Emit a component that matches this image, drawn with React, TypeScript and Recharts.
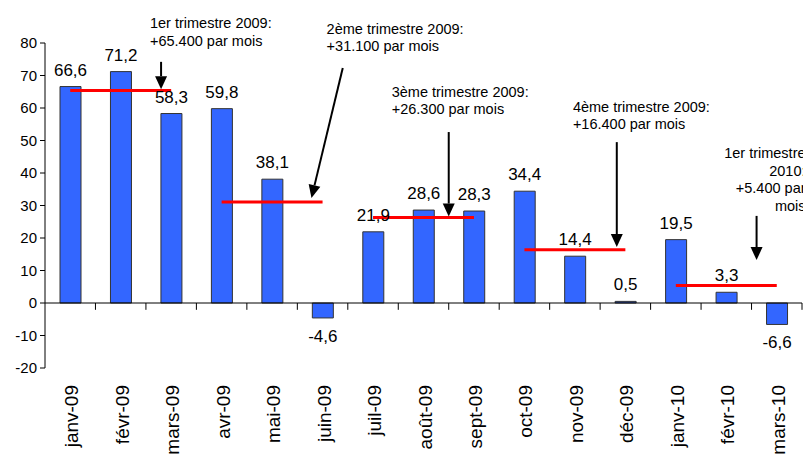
import React from "react";
import {
  ComposedChart, Bar, Line, XAxis, YAxis, ReferenceLine, ReferenceDot, LabelList,
} from "recharts";

const months = [
  "janv-09", "févr-09", "mars-09", "avr-09", "mai-09", "juin-09", "juil-09", "août-09",
  "sept-09", "oct-09", "nov-09", "déc-09", "janv-10", "févr-10", "mars-10",
];
const jobs = [66.6, 71.2, 58.3, 59.8, 38.1, -4.6, 21.9, 28.6, 28.3, 34.4, 14.4, 0.5, 19.5, 3.3, -6.6];
const quarterAvg = [65.4, 31.1, 26.3, 16.4, 5.4];
const yTicks = [-20, -10, 0, 10, 20, 30, 40, 50, 60, 70, 80];

// annotation text: [x on the 0..15 slot scale, y value, anchor, lines]
const notes: [number, number, string, string[]][] = [
  [2.08, 84.6, "start", ["1er trimestre 2009:", "+65.400 par mois"]],
  [5.58, 82.8, "start", ["2ème trimestre 2009:", "+31.100 par mois"]],
  [6.87, 63.4, "start", ["3ème trimestre 2009:", "+26.300 par mois"]],
  [10.46, 58.8, "start", ["4ème trimestre 2009:", "+16.400 par mois"]],
  [15.07, 44.6, "end", ["1er trimestre", "2010:", "+5.400 par", "mois"]],
];
// arrows: [x1, y1, x2, y2] on the same scales
const arrows = [
  [2.3, 74.2, 2.3, 65.8],
  [5.9, 72.3, 5.28, 32.3],
  [8.0, 52.6, 8.0, 26.6],
  [11.33, 49.5, 11.33, 17.2],
  [14.1, 26.8, 14.1, 13.2],
];

const data = months.map((m, i) => {
  const row: any = { month: m, slot: i + 0.5, value: jobs[i] };
  quarterAvg.forEach((q, k) => {
    row["q" + k] = Math.floor(i / 3) === k ? q : null;
  });
  return row;
});

const font = "Arial, 'Liberation Sans', sans-serif";

const MonthTick = ({ x, y, payload }: any) => {
  const tx = x + 8;
  const ty = y + 17;
  return (
    <text x={tx} y={ty} transform={`rotate(-90, ${tx}, ${ty})`} textAnchor="end"
      fontSize={19} fontFamily={font} fill="#000">
      {payload.value}
    </text>
  );
};

const ValueLabel = ({ x, y, width, height, value }: any) => {
  const neg = value < 0;
  const top = Math.min(y, y + height);
  const bottom = Math.max(y, y + height);
  return (
    <text x={x + width / 2} y={neg ? bottom + 24 : top - 11} textAnchor="middle"
      fontSize={17} fontFamily={font} fill="#000">
      {String(value).replace(".", ",")}
    </text>
  );
};

const Arrow = ({ x1, y1, x2, y2 }: any) => {
  const dx = x2 - x1;
  const dy = y2 - y1;
  const len = Math.sqrt(dx * dx + dy * dy);
  const ux = dx / len;
  const uy = dy / len;
  const hl = 13;
  const hw = 6;
  const bx = x2 - ux * hl;
  const by = y2 - uy * hl;
  return (
    <g>
      <line x1={x1} y1={y1} x2={bx} y2={by} stroke="#000" strokeWidth={2} />
      <polygon
        points={`${x2},${y2} ${bx - uy * hw},${by + ux * hw} ${bx + uy * hw},${by - ux * hw}`}
        fill="#000"
      />
    </g>
  );
};

const noteShape = (lines: string[], anchor: string) => ({ cx, cy }: any) => (
  <text x={cx} y={cy} textAnchor={anchor as any} fontSize={14.5} fontFamily={font} fill="#000">
    {lines.map((l, i) => (
      <tspan key={i} x={cx} dy={i === 0 ? 0 : 17.5}>{l}</tspan>
    ))}
  </text>
);

export default function App() {
  return (
    <div style={{ position: "absolute", left: 0, top: 0, width: 803, height: 455, background: "#fff" }}>
      <ComposedChart width={803} height={455} data={data}
        margin={{ top: 43, right: 1, bottom: 0, left: 0 }}>
        <XAxis dataKey="month" interval={0} axisLine={false} tickLine={false}
          tickSize={0} tickMargin={0} height={87} tick={<MonthTick />} />
        <XAxis xAxisId="num" dataKey="slot" type="number" domain={[0, 15]} hide allowDataOverflow />
        <YAxis domain={[-20, 80]} ticks={yTicks} width={45} tickSize={5} tickMargin={3}
          axisLine={{ stroke: "#000" }} tickLine={{ stroke: "#000" }}
          tick={{ fill: "#000", fontSize: 15, fontFamily: font }} allowDataOverflow />
        <Bar dataKey="value" fill="#3366ff" stroke="#333" strokeWidth={1} barSize={21}
          isAnimationActive={false}>
          <LabelList dataKey="value" content={<ValueLabel />} />
        </Bar>
        <ReferenceLine y={0} stroke="#000" strokeWidth={1} />
        {months.map((_, i) => (
          <ReferenceLine key={"t" + i} xAxisId="num" ifOverflow="visible"
            segment={[{ x: i + 1, y: 0 }, { x: i + 1, y: -2.1 }]} stroke="#000" strokeWidth={1} />
        ))}
        {quarterAvg.map((_, k) => (
          <Line key={"q" + k} dataKey={"q" + k} stroke="#ff0000" strokeWidth={3} dot={false}
            activeDot={false} connectNulls={false} isAnimationActive={false} />
        ))}
        {arrows.map((a, i) => (
          <ReferenceLine key={"a" + i} xAxisId="num" ifOverflow="visible"
            segment={[{ x: a[0], y: a[1] }, { x: a[2], y: a[3] }]} shape={<Arrow />} />
        ))}
        {notes.map((n, i) => (
          <ReferenceDot key={"n" + i} xAxisId="num" x={n[0]} y={n[1]} r={0}
            ifOverflow="visible" shape={noteShape(n[3], n[2])} />
        ))}
      </ComposedChart>
    </div>
  );
}
